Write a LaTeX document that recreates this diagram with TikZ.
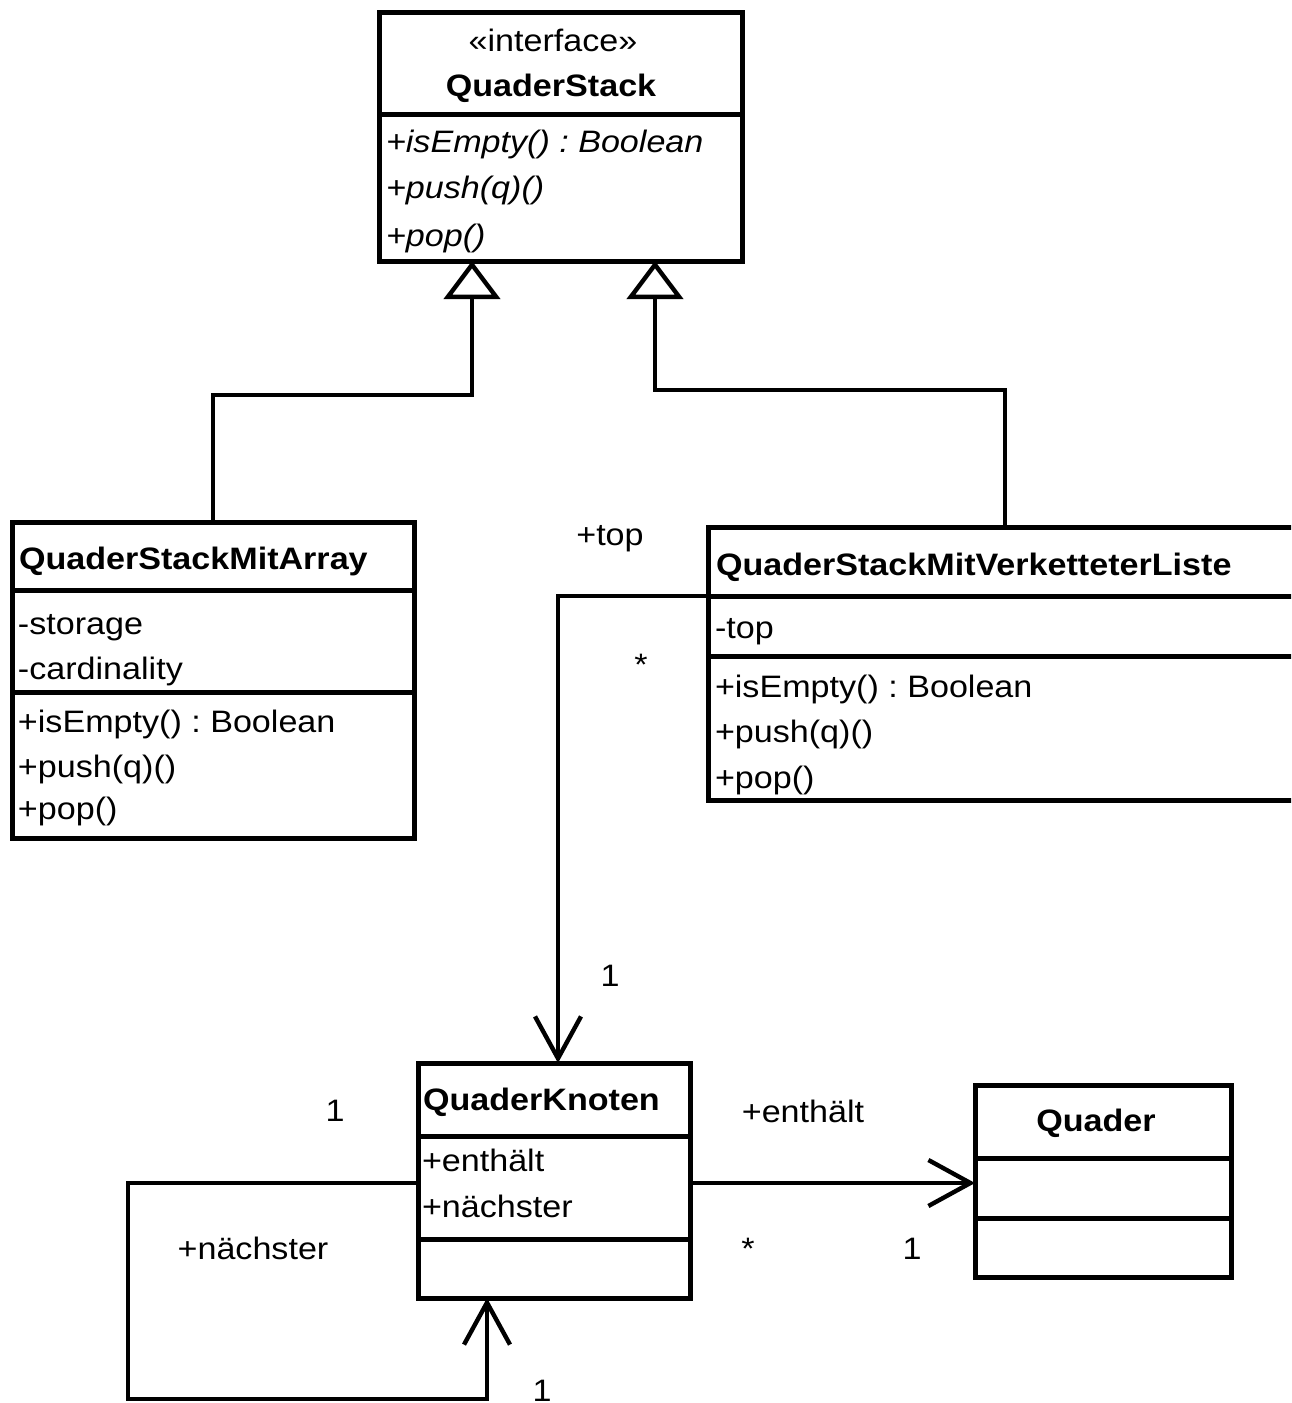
\documentclass[tikz,border=0pt]{standalone}
\usepackage{fontspec}
\setmainfont{Liberation Sans}[FakeStretch=1.1]
\usetikzlibrary{arrows.meta}
\newcommand\umlfs{\fontsize{15.5pt}{18pt}\selectfont\frenchspacing}
\begin{document}
\begin{tikzpicture}[x=0.5pt,y=-0.5pt,
  cls/.style={draw, line width=2.5pt, inner sep=0pt, outer sep=0pt, rectangle},
  sepline/.style={line width=2.5pt},
  conn/.style={line width=2.2pt},
  gen/.style={conn, -{Triangle[open, length=19pt, width=28pt]}},
  nav/.style={conn, -{Straight Barb[length=21pt, width=23pt]}},
  txt/.style={inner sep=0pt, outer sep=0pt, anchor=base west, font=\umlfs},
  ctxt/.style={inner sep=0pt, outer sep=0pt, anchor=base, font=\umlfs},
]
\useasboundingbox (0,0) rectangle (1291,1403);
\clip (0,0) rectangle (1291,1403);

% ---------- class boxes ----------
\node[cls, minimum width=181.5pt, minimum height=124.5pt] (qs)  at (560.5,136.5) {};
\node[cls, minimum width=201pt,   minimum height=158pt]   (arr) at (213,680) {};
\node[cls, minimum width=301pt,   minimum height=136.5pt] (ver) at (1009,663.5) {};
\node[cls, minimum width=136pt,   minimum height=117.5pt] (kn)  at (554,1180.5) {};
\node[cls, minimum width=128pt,   minimum height=96pt]    (qu)  at (1103,1181) {};

% ---------- compartment lines ----------
\draw[sepline] (qs.west |- 0,114) -- (qs.east |- 0,114);
\draw[sepline] (arr.west |- 0,590) -- (arr.east |- 0,590);
\draw[sepline] (arr.west |- 0,692) -- (arr.east |- 0,692);
\draw[sepline] (ver.west |- 0,596) -- (ver.east |- 0,596);
\draw[sepline] (ver.west |- 0,656) -- (ver.east |- 0,656);
\draw[sepline] (kn.west |- 0,1136) -- (kn.east |- 0,1136);
\draw[sepline] (kn.west |- 0,1239) -- (kn.east |- 0,1239);
\draw[sepline] (qu.west |- 0,1158) -- (qu.east |- 0,1158);
\draw[sepline] (qu.west |- 0,1218) -- (qu.east |- 0,1218);

% ---------- texts: QuaderStack ----------
\node[ctxt] (qsst) at (553,51) {«interface»};
\node[ctxt] (qsnm) at (551,96) {\bfseries QuaderStack};
\node[txt] (qsm1) at (386,152) {\itshape +isEmpty() : Boolean};
\node[txt] (qsm2) at (386,198) {\itshape +push(q)()};
\node[txt] (qsm3) at (386,246) {\itshape +pop()};

% ---------- texts: QuaderStackMitArray ----------
\node[txt] (arnm) at (19,569) {\bfseries QuaderStackMitArray};
\node[txt] (ara1) at (18,634) {-storage};
\node[txt] (ara2) at (18,679) {-cardinality};
\node[txt] (arm1) at (18,732) {+isEmpty() : Boolean};
\node[txt] (arm2) at (18,777) {+push(q)()};
\node[txt] (arm3) at (18,819) {+pop()};

% ---------- texts: QuaderStackMitVerketteterListe ----------
\node[txt] (vrnm) at (716,575) {\bfseries QuaderStackMitVerketteterListe};
\node[txt] (vra1) at (715,638) {-top};
\node[txt] (vrm1) at (715,697) {+isEmpty() : Boolean};
\node[txt] (vrm2) at (715,742) {+push(q)()};
\node[txt] (vrm3) at (715,788) {+pop()};

% ---------- texts: QuaderKnoten ----------
\node[txt] (knnm) at (423,1110) {\bfseries QuaderKnoten};
\node[txt] (kna1) at (422,1171) {+enthält};
\node[txt] (kna2) at (422,1217) {+nächster};

% ---------- texts: Quader ----------
\node[ctxt] (qunm) at (1096,1131) {\bfseries Quader};

% ---------- generalizations ----------
\draw[gen] (arr.north) |- (472,395) -- (qs.south -| 472,0);
\draw[gen] (ver.north -| 1005,0) |- (655,390) -- (qs.south -| 655,0);

% ---------- associations ----------
\draw[nav] (ver.west |- 0,596) -| (kn.north -| 558,0);
\draw[nav] (kn.east |- 0,1183) -- (qu.west |- 0,1183);
\draw[nav] (kn.west |- 0,1183) -| (128,1399) -| (kn.south -| 487,0);

% ---------- association labels ----------
\node[ctxt] (ltop)  at (610,545) {+top};
\node[ctxt] (lst1)  at (641,675) {*};
\node[ctxt] (lone1) at (610,986) {1};
\node[ctxt] (lone2) at (335,1121) {1};
\node[ctxt] (lnx)   at (253,1259) {+nächster};
\node[ctxt] (lone3) at (542,1401) {1};
\node[ctxt] (lent)  at (803,1122) {+enthält};
\node[ctxt] (lst2)  at (748,1259) {*};
\node[ctxt] (lone4) at (912,1259) {1};
\end{tikzpicture}
\end{document}
